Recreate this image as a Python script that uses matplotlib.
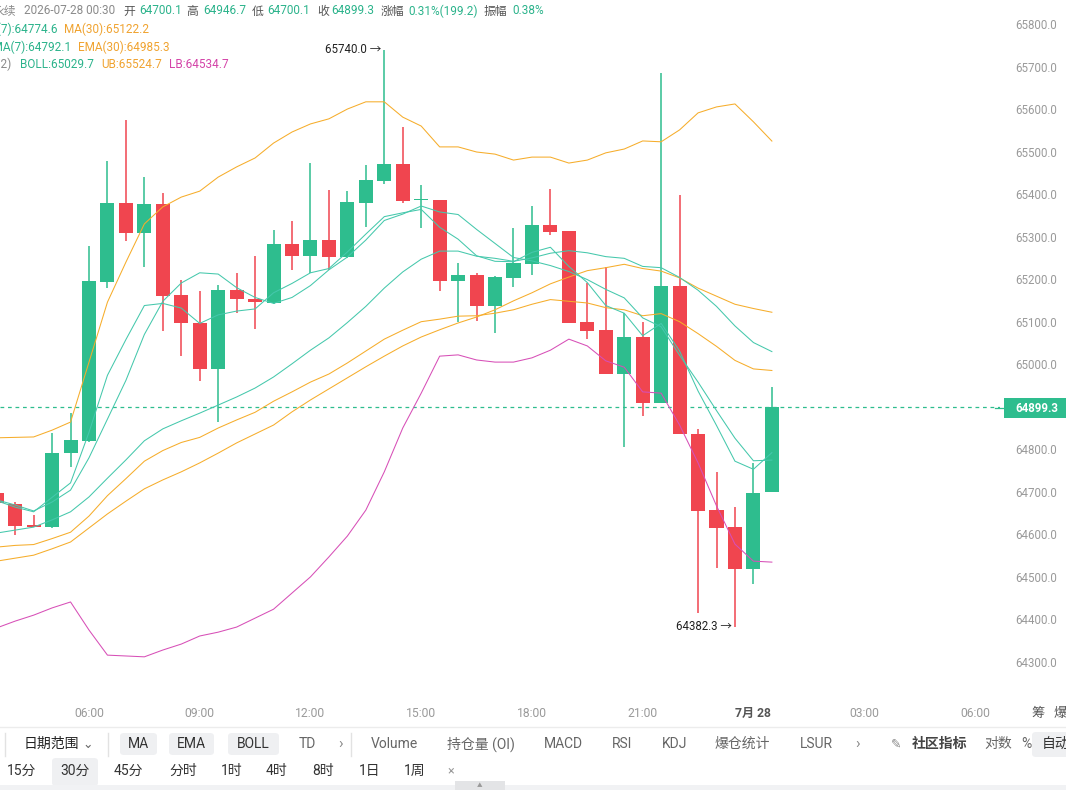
import numpy as np
import matplotlib.pyplot as plt
from matplotlib.patches import Rectangle, FancyBboxPatch
from matplotlib.lines import Line2D

plt.rcParams['font.family'] = ['Roboto', 'Noto Sans CJK SC', 'DejaVu Sans']

W, H = 1066, 790

# 30分K线, 03:30 ~ 次日 00:30
times = ['03:30', '04:00', '04:30', '05:00', '05:30', '06:00', '06:30', '07:00', '07:30',
         '08:00', '08:30', '09:00', '09:30', '10:00', '10:30', '11:00', '11:30', '12:00',
         '12:30', '13:00', '13:30', '14:00', '14:30', '15:00', '15:30', '16:00', '16:30',
         '17:00', '17:30', '18:00', '18:30', '19:00', '19:30', '20:00', '20:30', '21:00',
         '21:30', '22:00', '22:30', '23:00', '23:30', '00:00', '00:30']
opens = [64697, 64671, 64622, 64617, 64791, 64820, 65193, 65379, 65309, 65377, 65163,
         65097, 64989, 65175, 65153, 65144, 65283, 65255, 65292, 65252, 65379, 65431,
         65471, 65386, 65386, 65196, 65210, 65137, 65203, 65236, 65327, 65313, 65099,
         65080, 64977, 65064, 64909, 65184, 64836, 64657, 64617, 64518, 64700.1]
highs = [64704, 64676, 64645, 64838, 64885, 65278, 65478, 65574, 65440, 65403, 65198,
         65172, 65186, 65215, 65255, 65316, 65337, 65473, 65410, 65407, 65468, 65740.0,
         65558, 65421, 65386, 65238, 65215, 65207, 65320, 65372, 65412, 65313, 65191,
         65229, 65120, 65099, 65685, 65398, 64848, 64747, 64664, 64768, 64946.7]
lows = [64667, 64599, 64617, 64615, 64758, 64818, 65179, 65290, 65229, 65078, 65019,
        64961, 64864, 65120, 65083, 65142, 65222, 65215, 65222, 65250, 65323, 65424,
        65379, 65320, 65172, 65099, 65102, 65073, 65182, 65210, 65304, 65097, 65059,
        64977, 64805, 64878, 64909, 64836, 64415, 64521, 64382.3, 64483, 64700.1]
closes = [64674, 64620, 64618, 64791, 64822, 65196, 65379, 65309, 65377, 65160, 65097,
          64989, 65175, 65153, 65146, 65283, 65255, 65292, 65252, 65381, 65433, 65471,
          65384, 65389, 65196, 65210, 65137, 65205, 65238, 65327, 65311, 65097, 65078,
          64977, 65064, 64909, 65184, 64836, 64655, 64615, 64518, 64697, 64899.3]

ma7 = [64681, 64669, 64655, 64676, 64704, 64780, 64871, 64962, 65070, 65148, 65191,
       65215, 65212, 65180, 65157, 65143, 65157, 65185, 65222, 65252, 65292, 65338,
       65353, 65372, 65358, 65352, 65317, 65284, 65251, 65243, 65232, 65218, 65199,
       65176, 65156, 65109, 65088, 65021, 64958, 64891, 64826, 64773, 64774.6]
ema7 = [64679, 64664, 64653, 64687, 64721, 64840, 64974, 65058, 65138, 65143, 65132,
        65096, 65116, 65125, 65130, 65168, 65190, 65215, 65225, 65264, 65306, 65347,
        65356, 65364, 65322, 65294, 65255, 65242, 65241, 65263, 65275, 65230, 65192,
        65138, 65120, 65067, 65096, 65031, 64937, 64856, 64772, 64753, 64792.1]
ma30 = [64537, 64544, 64551, 64566, 64582, 64615, 64648, 64678, 64707, 64728, 64747,
        64768, 64791, 64815, 64836, 64857, 64888, 64916, 64942, 64968, 64994, 65019,
        65043, 65064, 65081, 65097, 65111, 65128, 65149, 65168, 65189, 65205, 65220,
        65227, 65235, 65225, 65219, 65203, 65179, 65160, 65141, 65131, 65122.2]
ema30 = [64570, 64574, 64576, 64590, 64605, 64643, 64691, 64731, 64772, 64797, 64816,
         64828, 64850, 64869, 64887, 64913, 64935, 64958, 64977, 65003, 65031, 65059,
         65080, 65100, 65106, 65113, 65114, 65120, 65128, 65141, 65152, 65148, 65144,
         65133, 65128, 65114, 65119, 65100, 65072, 65042, 65009, 64989, 64985.3]
boll = [64603, 64610, 64617, 64634, 64653, 64688, 64732, 64775, 64820, 64848, 64867,
        64885, 64904, 64923, 64944, 64970, 65001, 65033, 65062, 65098, 65136, 65179,
        65217, 65247, 65266, 65266, 65254, 65249, 65242, 65250, 65261, 65267, 65262,
        65253, 65249, 65230, 65227, 65204, 65174, 65136, 65090, 65051, 65029.7]
ub = [64827, 64828, 64829, 64845, 64864, 65005, 65146, 65240, 65330, 65370, 65393,
      65407, 65440, 65464, 65485, 65520, 65546, 65565, 65577, 65600, 65617, 65617,
      65581, 65560, 65511, 65511, 65499, 65494, 65480, 65487, 65487, 65473, 65480,
      65497, 65506, 65525, 65523, 65551, 65591, 65605, 65612, 65570, 65524.7]
lb = [64380, 64396, 64410, 64427, 64441, 64375, 64316, 64314, 64312, 64328, 64342,
      64361, 64370, 64382, 64403, 64424, 64462, 64500, 64547, 64596, 64657, 64747,
      64850, 64932, 65019, 65022, 65010, 65005, 65005, 65015, 65033, 65059, 65043,
      65008, 64993, 64935, 64932, 64857, 64768, 64667, 64577, 64537, 64534.7]

x_labels = ['06:00', '09:00', '12:00', '15:00', '18:00', '21:00', '7月 28', '03:00', '06:00']
y_ticks = [65800, 65700, 65600, 65500, 65400, 65300, 65200, 65100, 65000,
           64800, 64700, 64600, 64500, 64400, 64300]
last_price = 64899.3

GREEN = '#2ebd8e'
RED = '#f0454f'
TEAL = '#45c8ac'
ORANGE = '#f6ad2b'
PINK = '#d74fb7'
TXT_G = '#2bb38b'
TXT_O = '#f0a330'
TXT_P = '#d444a8'


def fx(px):
    return px / W


def fy(py):
    return 1 - py / H


fig = plt.figure(figsize=(W / 100, H / 100), dpi=100)
ax = fig.add_axes([0, fy(700), fx(1000), 700 / H])

x = np.arange(len(closes))
o = np.array(opens)
c = np.array(closes)
col = np.where(c >= o, GREEN, RED)

# 影线 + 实体
ax.vlines(x, lows, highs, colors=col, lw=1.1, zorder=2)
body = np.maximum(np.abs(c - o), 3.5)
ax.bar(x, body, bottom=np.minimum(o, c), width=0.76, color=col, zorder=3)

# 指标线
for s, cl in [(ub, ORANGE), (ma30, ORANGE), (ema30, ORANGE),
              (boll, TEAL), (ma7, TEAL), (ema7, TEAL), (lb, PINK)]:
    ax.plot(x, s, color=cl, lw=0.75, zorder=4)

ax.axhline(last_price, color=GREEN, lw=0.9, ls=(0, (3, 3)), zorder=1)

ax.set_xlim(0.178, 54.36)
ax.set_ylim(64210.5, 65856.4)
for sp in ax.spines.values():
    sp.set_visible(False)

i6 = times.index('06:00')
ax.set_xticks(np.arange(i6, 54, 6))
ax.set_xticklabels(x_labels)
ax.tick_params(axis='x', length=0, pad=5, labelsize=8.7, labelcolor='#9a9a9a')
for lab in ax.get_xticklabels():
    if '月' in lab.get_text():
        lab.set_fontweight('bold')
        lab.set_color('#555555')

ax.yaxis.tick_right()
ax.set_yticks(y_ticks)
ax.set_yticklabels([f'{v:.1f}' for v in y_ticks])
ax.tick_params(axis='y', length=0, pad=10.8, labelsize=8.3, labelcolor='#9a9a9a')

# 最高/最低标注
hi = int(np.argmax(highs))
lo = int(np.argmin(lows))
ax.annotate(f'{highs[hi]:.1f} →', (hi, highs[hi]), xytext=(-3, 0), textcoords='offset pixels',
            ha='right', va='center', fontsize=8.3, color='#222222')
ax.annotate(f'{lows[lo]:.1f} →', (lo, lows[lo]), xytext=(-3, 0), textcoords='offset pixels',
            ha='right', va='center', fontsize=8.3, color='#222222')

# 最新价标签
fig.add_artist(Line2D([fx(995), fx(1004)], [fy(408), fy(408)], color=GREEN, lw=0.9))
fig.add_artist(Rectangle((fx(1004), fy(418)), fx(62), 20 / H, color=GREEN, lw=0))
fig.text(fx(1015), fy(408), f'{last_price:.1f}', color='white', fontsize=8.3,
         fontweight='bold', va='center', ha='left')


def t(px, py, s, color, size=8.5, ha='left', **kw):
    fig.text(fx(px), fy(py), s, color=color, fontsize=size, ha=ha, va='center', **kw)


# 顶部信息（左侧被图表边缘截断）
t(-7, 11, '永续', '#8a8a8a')
t(24, 11, '2026-07-28 00:30', '#8a8a8a')
for lbl, lx, val, vx in [('开', 123, opens[-1], 139), ('高', 186, highs[-1], 203),
                         ('低', 252, lows[-1], 267), ('收', 317, closes[-1], 331)]:
    t(lx, 11, lbl, '#555555')
    t(vx, 11, f'{val:.1f}', TXT_G)
t(381, 11, '涨幅', '#555555')
t(408, 11, '0.31%(199.2)', TXT_G)
t(484, 11, '振幅', '#555555')
t(512, 11, '0.38%', TXT_G)

t(58, 29, f'MA(7):{ma7[-1]:.1f}', TXT_G, ha='right')
t(64, 29, f'MA(30):{ma30[-1]:.1f}', TXT_O)
t(71, 47, f'EMA(7):{ema7[-1]:.1f}', TXT_G, ha='right')
t(78, 47, f'EMA(30):{ema30[-1]:.1f}', TXT_O)
t(11, 64, 'BOLL(20, 2)', '#8a8a8a', ha='right')
t(20, 64, f'BOLL:{boll[-1]:.1f}', TXT_G)
t(101, 64, f'UB:{ub[-1]:.1f}', TXT_O)
t(169, 64, f'LB:{lb[-1]:.1f}', TXT_P)

t(1031, 713, '筹', '#555555', size=9.5)
t(1053, 713, '爆', '#555555', size=9.5)

# 底部工具栏
fig.add_artist(Line2D([0, 1], [fy(727), fy(727)], color='#ececec', lw=1))
for sx in [5, 108, 351]:
    fig.add_artist(Line2D([fx(sx), fx(sx)], [fy(733), fy(756)], color='#e2e2e2', lw=1))


def pill(x0, x1, y0, y1):
    fig.add_artist(FancyBboxPatch((fx(x0), fy(y1)), fx(x1 - x0), (y1 - y0) / H,
                                  boxstyle='round,pad=0,rounding_size=0.004',
                                  fc='#eff0f2', ec='none'))


for x0, x1, s in [(120, 157, 'MA'), (169, 214, 'EMA'), (228, 279, 'BOLL')]:
    pill(x0, x1, 733, 755)
    t((x0 + x1) / 2, 744, s, '#333333', size=10, ha='center')
pill(1032, 1070, 732, 757)
t(1042, 744, '自动', '#333333', size=10)

t(24, 744, '日期范围', '#222222', size=10)
t(82, 744, '⌄', '#666666', size=9)
for px, s in [(299, 'TD'), (371, 'Volume'), (447, '持仓量 (OI)'), (544, 'MACD'),
              (612, 'RSI'), (662, 'KDJ'), (715, '爆仓统计'), (800, 'LSUR'),
              (984, '对数'), (1021, '%')]:
    t(px, 744, s, '#666666', size=10)
t(338, 744, '›', '#888888', size=11)
t(855, 744, '›', '#888888', size=11)
t(891, 744, '✎', '#888888', size=9)
t(912, 744, '社区指标', '#444444', size=10, fontweight='bold')

pill(52, 98, 758, 786)
for px, s in [(7, '15分'), (60, '30分'), (114, '45分'), (169, '分时'), (221, '1时'),
              (266, '4时'), (312, '8时'), (359, '1日'), (404, '1周')]:
    t(px, 771, s, '#333333', size=10)
t(447, 771, '×', '#999999', size=9)

fig.add_artist(Rectangle((0, 0), 1, 5 / H, color='#f1f2f4', lw=0))
fig.add_artist(Rectangle((fx(455), 0), fx(50), 9 / H, color='#e3e4e6', lw=0))
t(480, 786, '▲', '#999999', size=4, ha='center')

fig.savefig('out.png', dpi=100, facecolor='white')
